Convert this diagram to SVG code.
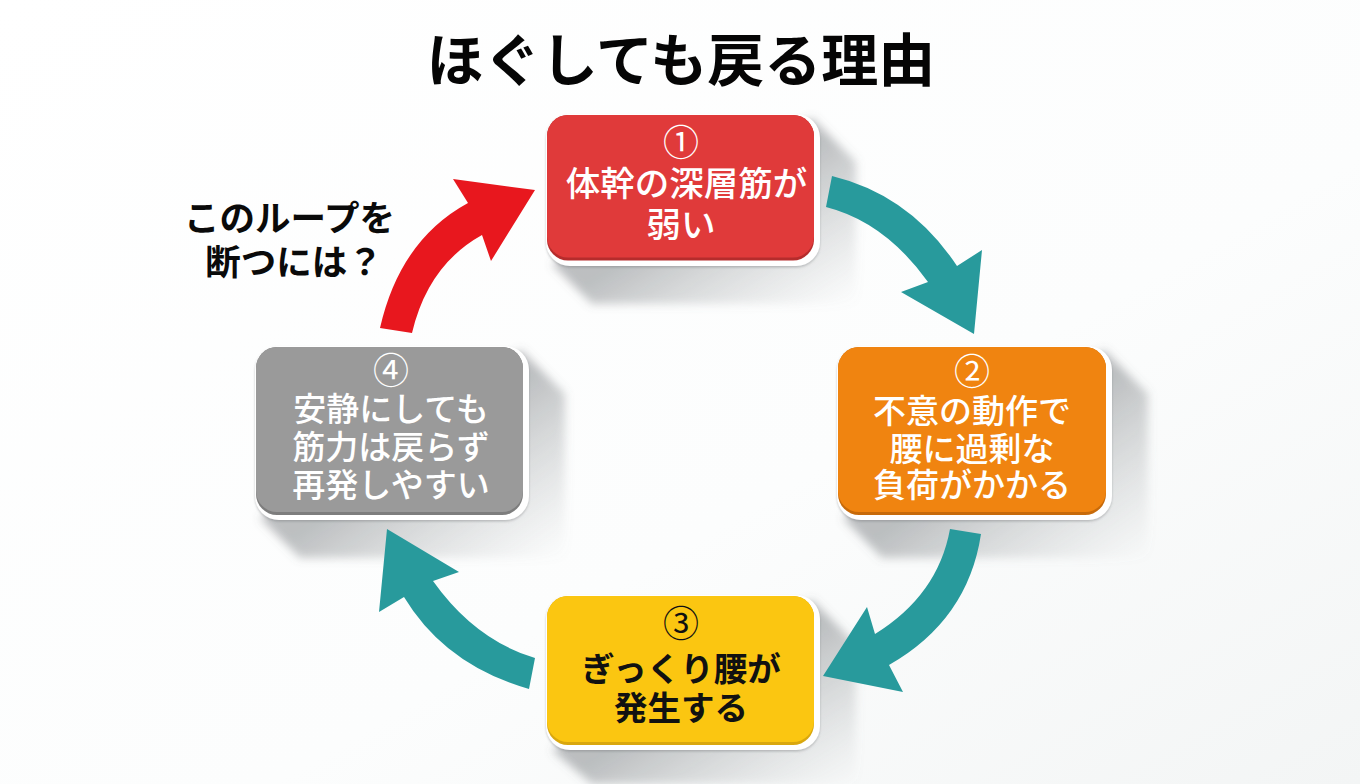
<svg xmlns="http://www.w3.org/2000/svg" width="1360" height="784" viewBox="0 0 1360 784">
<defs>
<linearGradient id="bg" x1="0" y1="0" x2="1" y2="1"><stop offset="0" stop-color="#ffffff"/><stop offset="0.6" stop-color="#fcfdfd"/><stop offset="1" stop-color="#f3f5f5"/></linearGradient>
<linearGradient id="sh" x1="0.5" y1="0.5" x2="1" y2="1"><stop offset="0" stop-color="#63686c" stop-opacity="0.42"/><stop offset="1" stop-color="#8b9093" stop-opacity="0"/></linearGradient>
<filter id="blur" x="-20%" y="-20%" width="140%" height="140%"><feGaussianBlur stdDeviation="5"/></filter>
<filter id="edge" x="-5%" y="-5%" width="110%" height="112%"><feDropShadow dx="0" dy="1.500" stdDeviation="1" flood-color="#6d7275" flood-opacity="0.4"/></filter>
</defs>
<style>
text{font-family:"Noto Sans CJK JP","Noto Sans",sans-serif;text-anchor:middle}
.title{font-size:57px;font-weight:700;fill:#050505}
.q{font-size:35.500px;font-weight:700;fill:#0a0a0a}
.w{font-weight:500;fill:#fff}
.k{font-weight:700;fill:#111}
.n{font-weight:400;font-size:36px}
.sh{fill:url(#sh);filter:url(#blur)}
.card{fill:#fff;filter:url(#edge)}
.teal{fill:#289a9c}
.red{fill:#e8171e}
</style>
<rect width="1360" height="784" fill="url(#bg)"/>
<text class="title" x="681" y="81">ほぐしても戻る理由</text>
<g id="node1">
<path class="sh" d="M812 118L856 162V304H592L552 264Z"/>
<rect class="card" x="546" y="114" width="274" height="152" rx="24"/>
<rect x="547" y="115" width="267" height="145.500" rx="21" fill="#b52c2c"/>
<rect x="547" y="115" width="267" height="142.500" rx="21" fill="#e03a3a"/>
<text class="w"><tspan class="n" x="681" y="156">①</tspan><tspan x="686.500" y="196" font-size="34.500">体幹の深層筋が</tspan><tspan x="681" y="237" font-size="34.500">弱い</tspan></text>
</g>
<g id="node2">
<path class="sh" d="M1104 350L1148 394V558H882L843 518Z"/>
<rect class="card" x="837" y="346" width="275" height="174" rx="24"/>
<rect x="838" y="347" width="268" height="168" rx="21" fill="#c76a0a"/>
<rect x="838" y="347" width="268" height="165" rx="21" fill="#f08410"/>
<text class="w"><tspan class="n" x="972" y="385">②</tspan><tspan x="972" y="423" font-size="33">不意の動作で</tspan><tspan x="972" y="461" font-size="33">腰に過剰な</tspan><tspan x="972" y="497" font-size="33">負荷がかかる</tspan></text>
</g>
<g id="node3">
<path class="sh" d="M812 600L856 644V784H592L552 750Z"/>
<rect class="card" x="546" y="595" width="274" height="155" rx="24"/>
<rect x="547" y="596" width="267" height="149" rx="21" fill="#d9a70e"/>
<rect x="547" y="596" width="267" height="146" rx="21" fill="#fbc611"/>
<text class="k"><tspan class="n" x="681" y="637">③</tspan><tspan x="681" y="681" font-size="33.500">ぎっくり腰が</tspan><tspan x="681" y="720" font-size="33.500">発生する</tspan></text>
</g>
<g id="node4">
<path class="sh" d="M521 350L565 394V558H300L260 518Z"/>
<rect class="card" x="255" y="346" width="274" height="174" rx="24"/>
<rect x="256" y="347" width="267" height="168" rx="21" fill="#7d7d7d"/>
<rect x="256" y="347" width="267" height="165" rx="21" fill="#9a9a9a"/>
<text class="w"><tspan class="n" x="391" y="384">④</tspan><tspan x="391" y="421" font-size="33">安静にしても</tspan><tspan x="391" y="459" font-size="33">筋力は戻らず</tspan><tspan x="391" y="497" font-size="33">再発しやすい</tspan></text>
</g>
<g id="connectors">
<path class="teal" d="M832 176Q910 195 957 266L982 250L974 334L901 292L928 282Q885 222 826 207Z"/>
<path class="teal" d="M950 529L981 534Q968 620 889 665L903 692L823 676L867 607L875 634Q938 595 950 529Z"/>
<path class="teal" d="M535 658Q475 640 433 581L459 572L387 529L379 612L404 597Q445 665 529 689Z"/>
<path class="red" d="M380 328Q400 240 468 203L453 179L535 190L491 261L482 235Q428 265 412 333Z"/>
</g>
<g id="label">
<text class="q"><tspan x="289.500" y="231">このループを</tspan><tspan x="294" y="275">断つには？</tspan></text>
</g>
</svg>
